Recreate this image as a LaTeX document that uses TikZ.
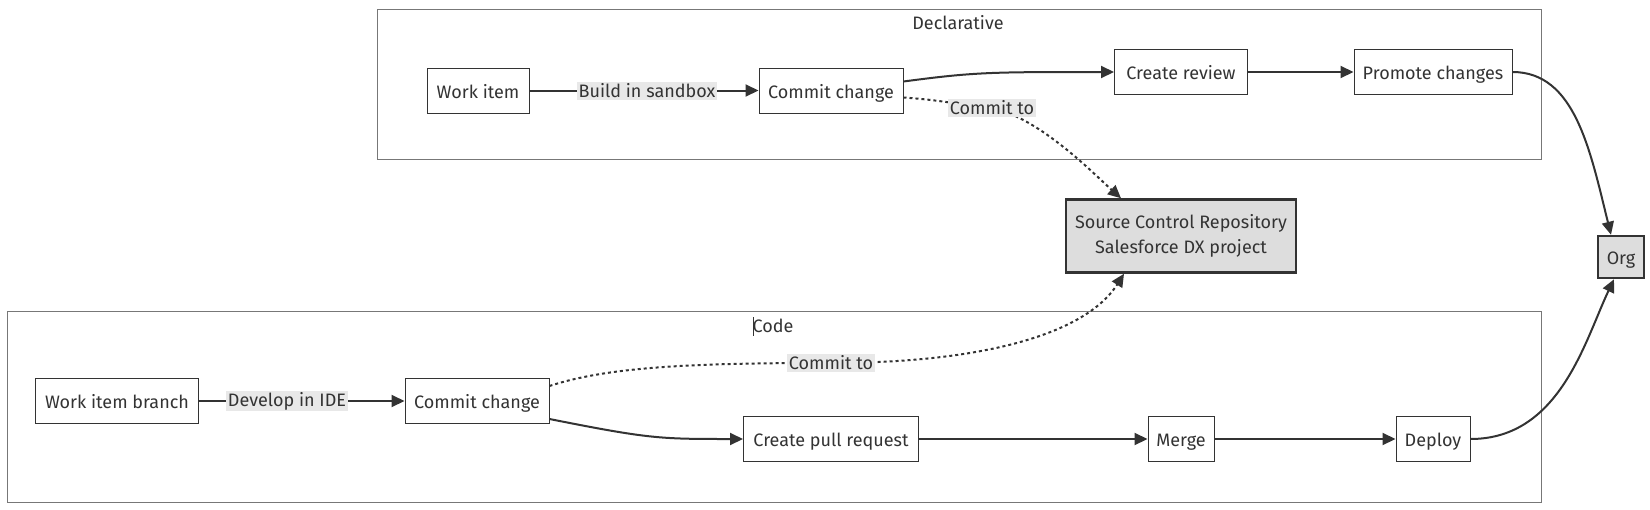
\documentclass[tikz,border=0pt]{standalone}
\usepackage{fontspec}
\setmainfont{Fira Sans}
\usetikzlibrary{arrows.meta}
\definecolor{ink}{HTML}{333333}
\definecolor{lblbg}{HTML}{E8E8E8}
\definecolor{repo}{HTML}{DDDDDD}
\definecolor{clus}{HTML}{777777}
\tikzset{
  box/.style={draw=ink, line width=1pt, fill=white, minimum height=45pt, inner sep=0pt, font=\fontsize{18}{21}\selectfont, text=ink, text height=15pt, text depth=0pt},
  hbox/.style={box, fill=repo, line width=2.5pt},
  lbl/.style={fill=lblbg, inner sep=1.5pt, font=\fontsize{18}{21}\selectfont, text=ink},
  ctitle/.style={font=\fontsize{18}{21}\selectfont, text=ink},
  clusterbox/.style={draw=clus, line width=1pt},
  ed/.style={draw=ink, line width=2pt, -{Triangle[length=13pt,width=12pt]}},
  dt/.style={draw=ink, line width=2pt, dash pattern=on 3pt off 3pt, -{Triangle[length=13pt,width=12pt]}},
}
\begin{document}
\begin{tikzpicture}[x=1pt,y=-1pt]
\useasboundingbox (0,0) rectangle (1650,509);
% clusters
\draw[clusterbox] (377,9.5) rectangle (1541,159);
\node[ctitle] (tdecl) at (958,23) {Declarative};
\draw[clusterbox] (7.5,311.5) rectangle (1541,502);
\node[ctitle] (tcode) at (773,326) {Code};
\draw[ink, line width=0.8pt] (753,317) -- (753,336);
% nodes
\node[box, minimum width=102pt] (wi) at (478,90.5) {Work item};
\node[box, minimum width=144pt] (ct) at (831,90.5) {Commit change};
\node[box, minimum width=133pt] (cr) at (1181,72) {Create review};
\node[box, minimum width=158pt] (pc) at (1433,72) {Promote changes};
\node[hbox, minimum width=230pt, minimum height=73pt, align=center, text height=, text depth=] (scr) at (1181,236) {Source Control Repository\\[4pt]Salesforce DX project};
\node[hbox, minimum width=46pt, minimum height=42pt] (org) at (1621,257) {Org};
\node[box, minimum width=163pt] (wib) at (117,401) {Work item branch};
\node[box, minimum width=144pt] (cb) at (477,401) {Commit change};
\node[box, minimum width=175pt] (cpr) at (831,439) {Create pull request};
\node[box, minimum width=66pt] (mg) at (1181,439) {Merge};
\node[box, minimum width=74pt] (dp) at (1433,439) {Deploy};
% label positions
\coordinate (p1) at (647,91);
\coordinate (p2) at (287,401);
\coordinate (p3) at (992,108);
\coordinate (p4) at (831,363);
% edges
\draw[ed] (wi) -- (ct);
\draw[ed] (wib) -- (cb);
\draw[ed] ([yshift=9pt]ct.east) .. controls (975,72) and (990,72) .. (cr.west);
\draw[ed] (cr) -- (pc);
\draw[ed] (pc.east) .. controls (1575,72) and (1590,150) .. ([xshift=-10pt]org.north);
\draw[ed] ([yshift=-18pt]cb.east) .. controls (650,439) and (660,439) .. (cpr.west);
\draw[ed] (cpr) -- (mg);
\draw[ed] (mg) -- (dp);
\draw[ed] (dp.east) .. controls (1560,439) and (1585,340) .. ([xshift=-7pt]org.south);
\draw[dt] ([yshift=-7pt]ct.east) .. controls (940,100) and (955,104) .. (p3) .. controls (1040,118) and (1095,175) .. ([xshift=-60pt]scr.north);
\draw[dt] ([yshift=15pt]cb.east) .. controls (610,366) and (700,363) .. (p4) .. controls (980,363) and (1085,335) .. ([xshift=-57pt]scr.south);
% labels
\node[lbl] (l1) at (p1) {Build in sandbox};
\node[lbl] (l2) at (p2) {Develop in IDE};
\node[lbl] (l3) at (p3) {Commit to};
\node[lbl] (l4) at (p4) {Commit to};
\end{tikzpicture}
\end{document}
